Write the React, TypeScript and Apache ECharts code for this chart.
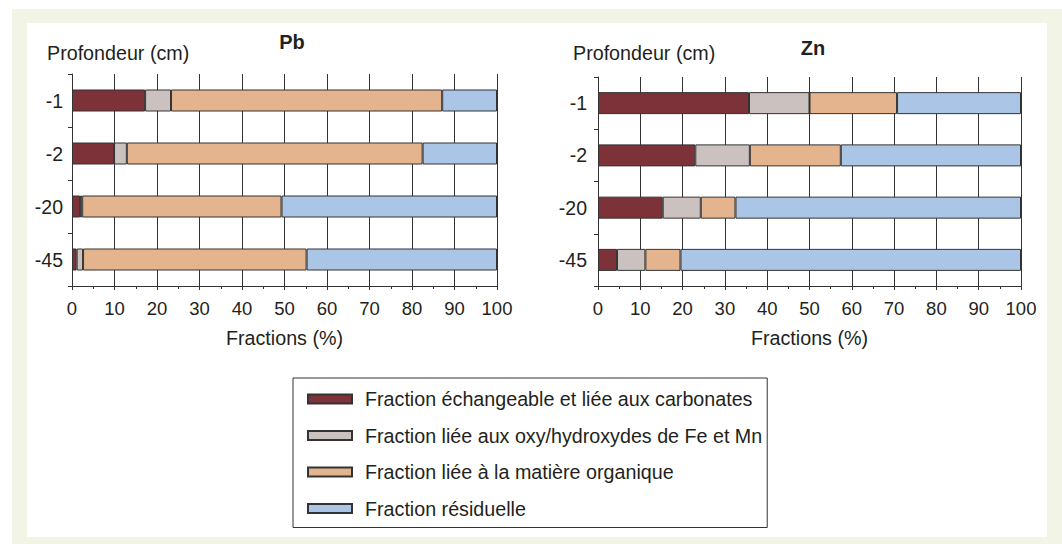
import React, { useEffect, useRef } from "react";
import * as echarts from "echarts";

const depths = ["-1", "-2", "-20", "-45"];
const fractionNames = [
  "Fraction échangeable et liée aux carbonates",
  "Fraction liée aux oxy/hydroxydes de Fe et Mn",
  "Fraction liée à la matière organique",
  "Fraction résiduelle",
];
const fractionColors = ["#7c3238", "#cbc2c0", "#e3b48d", "#abc5e6"];

// Pb fractions (%) per depth, ordered -1, -2, -20, -45
const pbExchangeable = [17.2, 9.9, 1.9, 1.1];
const pbOxyhydroxides = [6.1, 3.0, 0.5, 1.5];
const pbOrganic = [63.8, 69.6, 46.9, 52.6];
const pbResidual = [12.9, 17.5, 50.7, 44.8];

// Zn fractions (%) per depth
const znExchangeable = [35.7, 23.0, 15.3, 4.5];
const znOxyhydroxides = [14.3, 12.9, 9.0, 6.7];
const znOrganic = [20.7, 21.5, 8.2, 8.3];
const znResidual = [29.3, 42.6, 67.5, 80.5];

const xTicks = { min: 0, max: 100, interval: 10 };

const FONT = "'Liberation Sans', Arial, Helvetica, sans-serif";
const TXT = "#231f20";
const LINE = "#333333";

export default function App() {
  const ref = useRef<HTMLDivElement>(null);

  useEffect(() => {
    if (!ref.current) return;
    const chart = echarts.init(ref.current, undefined, { renderer: "svg" });

    const pbData = [pbExchangeable, pbOxyhydroxides, pbOrganic, pbResidual];
    const znData = [znExchangeable, znOxyhydroxides, znOrganic, znResidual];

    const makeX = (gridIndex: number) => ({
      type: "value",
      gridIndex,
      min: xTicks.min,
      max: xTicks.max,
      interval: xTicks.interval,
      name: "Fractions (%)",
      nameLocation: "middle",
      nameGap: 42,
      nameTextStyle: { fontFamily: FONT, fontSize: 19.7, color: TXT },
      axisLine: { show: true, lineStyle: { color: LINE, width: 1 } },
      axisTick: { show: true, inside: false, length: 4, lineStyle: { color: LINE } },
      minorTick: { show: true, splitNumber: 2, length: 3, lineStyle: { color: LINE } },
      axisLabel: { fontFamily: FONT, fontSize: 18.5, color: TXT, margin: 13 },
      splitLine: { show: true, lineStyle: { color: LINE, width: 1 } },
    });

    const makeY = (gridIndex: number, margin: number) => ({
      type: "category",
      gridIndex,
      data: depths,
      inverse: true,
      axisLine: { show: true, lineStyle: { color: LINE, width: 1 } },
      axisTick: { show: true, inside: false, length: 4, lineStyle: { color: LINE } },
      axisLabel: { fontFamily: FONT, fontSize: 19.5, color: TXT, margin },
      splitLine: { show: false },
    });

    const series: any[] = [];
    pbData.forEach((d, i) => {
      series.push({
        type: "bar",
        name: fractionNames[i],
        xAxisIndex: 0,
        yAxisIndex: 0,
        stack: "pb",
        barWidth: 22,
        data: d,
        itemStyle: { color: fractionColors[i], borderColor: LINE, borderWidth: 1 },
      });
    });
    znData.forEach((d, i) => {
      series.push({
        type: "bar",
        name: fractionNames[i],
        xAxisIndex: 1,
        yAxisIndex: 1,
        stack: "zn",
        barWidth: 22,
        data: d,
        itemStyle: { color: fractionColors[i], borderColor: LINE, borderWidth: 1 },
      });
    });

    chart.setOption({
      animation: false,
      backgroundColor: "transparent",
      textStyle: { fontFamily: FONT },
      title: [
        {
          text: "Pb",
          left: 287,
          top: 27,
          textAlign: "center",
          textStyle: { fontFamily: FONT, fontSize: 20, fontWeight: "bold", color: TXT },
        },
        {
          text: "Zn",
          left: 808,
          top: 33,
          textAlign: "center",
          textStyle: { fontFamily: FONT, fontSize: 20, fontWeight: "bold", color: TXT },
        },
        {
          text: "Profondeur (cm)",
          left: 47,
          top: 43,
          padding: 0,
          textStyle: { fontFamily: FONT, fontSize: 19.7, fontWeight: "normal", color: TXT },
        },
        {
          text: "Profondeur (cm)",
          left: 573,
          top: 43,
          padding: 0,
          textStyle: { fontFamily: FONT, fontSize: 19.7, fontWeight: "normal", color: TXT },
        },
      ],
      legend: {
        orient: "vertical",
        left: 293,
        top: 378,
        data: fractionNames,
        itemWidth: 44,
        itemHeight: 9,
        itemGap: 16.5,
        padding: [11, 5, 9, 14],
        borderColor: LINE,
        borderWidth: 1,
        backgroundColor: "#ffffff",
        borderRadius: 0,
        icon: "rect",
        selectedMode: false,
        textStyle: { fontFamily: FONT, fontSize: 19.7, color: TXT, padding: [0, 0, 0, 8] },
      },
      grid: [
        { left: 72, top: 74, width: 425, height: 212, containLabel: false },
        { left: 598, top: 77, width: 423, height: 209, containLabel: false },
      ],
      xAxis: [makeX(0), makeX(1)],
      yAxis: [makeY(0, 9), makeY(1, 11)],
      series,
    });

    return () => {
      chart.dispose();
    };
  }, []);

  return (
    <div
      style={{
        position: "fixed",
        left: 0,
        top: 0,
        width: 1062,
        height: 544,
        background: "#ffffff",
        overflow: "hidden",
      }}
    >
      <div
        style={{
          position: "absolute",
          left: 12,
          top: 9,
          width: 1050,
          height: 535,
          background: "#f2f5e6",
        }}
      />
      <div
        style={{
          position: "absolute",
          left: 27,
          top: 23,
          width: 1020,
          height: 514,
          background: "#ffffff",
        }}
      />
      <div
        ref={ref}
        style={{ position: "absolute", left: 0, top: 0, width: 1062, height: 544 }}
      />
    </div>
  );
}
